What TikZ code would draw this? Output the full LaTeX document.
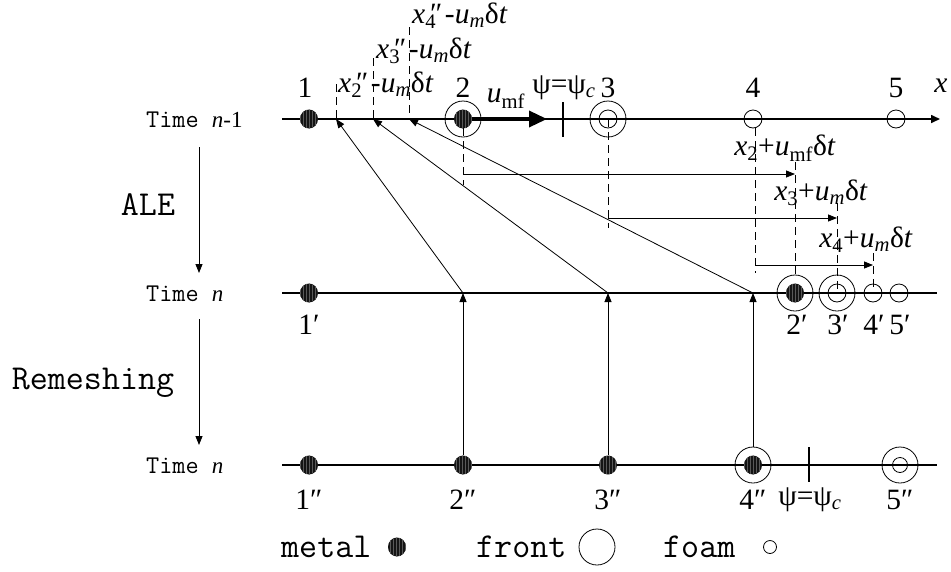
\documentclass[tikz,border=0pt]{standalone}
\usepackage{fontspec}
\setmainfont{Liberation Serif}
\usetikzlibrary{arrows.meta,patterns,shapes.geometric}
\newcommand\lblsize{\rmfamily\fontsize{29.5}{29.5}\selectfont}
\newcommand\timesize{\fontsize{25.5}{25.5}\selectfont\ttfamily}
\newcommand\bigtt{\fontsize{35}{35}\selectfont\ttfamily}
\newcommand\sbi[1]{\textsubscript{\textit{#1}}}
\newcommand\sbu[1]{\textsubscript{#1}}
\newcommand\xpp[1]{\textit{x}\makebox[0pt][l]{\,″}\textsubscript{#1}\hspace{0.3em}}
\newcommand\nser[1]{{\rmfamily\fontsize{23}{23}\selectfont #1}}
\begin{document}
\begin{tikzpicture}[x=1pt,y=-1pt,
  axis/.style={line width=1.6pt},
  tarrow/.style={line width=0.8pt,-{Triangle[length=9pt,width=7pt]}},
  dashline/.style={line width=0.8pt,dash pattern=on 8pt off 5pt},
  metal/.style={ellipse,inner sep=0pt,minimum width=18pt,minimum height=19pt,preaction={fill=black!92},pattern={vertical lines},pattern color=black!65},
  front/.style={circle,draw,line width=0.8pt,minimum size=36pt,inner sep=0pt},
  foam/.style={circle,draw,line width=0.8pt,minimum size=18pt,inner sep=0pt},
  lab/.style={font=\lblsize,inner sep=0pt},
  ttlab/.style={font=\timesize,inner sep=0pt,anchor=west},
  bigttlab/.style={font=\bigtt,inner sep=0pt}]
\useasboundingbox (0,0) rectangle (951,571);

% ---------- coordinates ----------
\coordinate (L1) at (282,119); \coordinate (R1) at (940,119);
\coordinate (L2) at (282,293); \coordinate (R2) at (937,293);
\coordinate (L3) at (282,465); \coordinate (R3) at (937,465);
\coordinate (a2) at (336,119); \coordinate (a3) at (373,119); \coordinate (a4) at (409,119);
\coordinate (a2t) at (336,84); \coordinate (a3t) at (373,58); \coordinate (a4t) at (409,27);
\coordinate (p2) at (463,293); \coordinate (p3) at (608,293); \coordinate (p4) at (753,293);
\coordinate (umf) at (547,119);
\coordinate (psiA) at (563,102); \coordinate (psiB) at (563,137);
\coordinate (psiC) at (809,447); \coordinate (psiD) at (809,482);
\coordinate (d2a) at (463,128); \coordinate (d2b) at (463,185); \coordinate (h2s) at (463,174); \coordinate (h2e) at (795,174);
\coordinate (d3a) at (608,119); \coordinate (d3b) at (608,228); \coordinate (h3s) at (608,218); \coordinate (h3e) at (837,218);
\coordinate (d4a) at (755,128); \coordinate (d4b) at (755,273); \coordinate (h4s) at (755,265); \coordinate (h4e) at (873,265);
\coordinate (e2a) at (795,162); \coordinate (e2b) at (795,275);
\coordinate (e3a) at (837,203); \coordinate (e3b) at (837,293);
\coordinate (e4a) at (873,253); \coordinate (e4b) at (873,293);
\coordinate (s1a) at (199,147); \coordinate (s1b) at (199,273);
\coordinate (s2a) at (199,319); \coordinate (s2b) at (199,445);

% ---------- axes ----------
\draw[axis,-{Triangle[length=9pt,width=8pt]}] (L1) -- (R1);
\draw[axis] (L2) -- (R2);
\draw[axis] (L3) -- (R3);

% ---------- dashed guides ----------
\draw[dashline] (a2t) -- (a2);
\draw[dashline] (a3t) -- (a3);
\draw[dashline] (a4t) -- (a4);
\draw[dashline] (d2a) -- (d2b);
\draw[dashline] (d3a) -- (d3b);
\draw[dashline] (d4a) -- (d4b);
\draw[dashline] (e2a) -- (e2b);
\draw[dashline] (e3a) -- (e3b);
\draw[dashline] (e4a) -- (e4b);

% ---------- shift arrows ----------
\draw[tarrow] (h2s) -- (h2e);
\draw[tarrow] (h3s) -- (h3e);
\draw[tarrow] (h4s) -- (h4e);

% ---------- ticks ----------
\draw[line width=1.4pt] (psiA) -- (psiB);
\draw[line width=1.4pt] (psiC) -- (psiD);

% ---------- top row nodes ----------
\node[metal] (t1) at (309,119) {};
\node[front] (t2f) at (463,119) {};
\node[metal] (t2) at (463,119) {};
\node[front] (t3f) at (608,119) {};
\node[foam] (t3) at (608,119) {};
\node[foam] (t4) at (753,119) {};
\node[foam] (t5) at (896,119) {};
\draw[line width=3.5pt,-{Triangle[length=18pt,width=16pt]}] (t2.east) -- (umf);

% ---------- middle row nodes ----------
\node[metal] (m1) at (309,293) {};
\node[front] (m2f) at (795,293) {};
\node[metal] (m2) at (795,293) {};
\node[front] (m3f) at (837,293) {};
\node[foam] (m3) at (837,293) {};
\node[foam] (m4) at (873,293) {};
\node[foam] (m5) at (899,293) {};

% ---------- bottom row nodes ----------
\node[metal] (b1) at (309,465) {};
\node[metal] (b2) at (463,465) {};
\node[metal] (b3) at (608,465) {};
\node[front] (b4f) at (753,465) {};
\node[metal] (b4) at (753,465) {};
\node[front] (b5f) at (900,465) {};
\node[foam,minimum size=15pt] (b5) at (900,465) {};

% ---------- mapping arrows ----------
\draw[tarrow] (p2) -- (a2);
\draw[tarrow] (p3) -- (a3);
\draw[tarrow] (p4) -- (a4);
\draw[tarrow] (b2.north) -- (p2);
\draw[tarrow] (b3.north) -- (p3);
\draw[tarrow] (b4f.north) -- (p4);

% ---------- left labels and step arrows ----------
\node[ttlab] (tn1) at (146,120) {Time \nser{\textit{n}-1}};
\node[ttlab] (tn2) at (146,294) {Time \nser{\textit{n}}};
\node[ttlab] (tn3) at (146,466) {Time \nser{\textit{n}}};
\draw[tarrow] (s1a) -- (s1b);
\draw[tarrow] (s2a) -- (s2b);
\node[bigttlab] (ale) at (148,205) {ALE};
\node[bigttlab] (rem) at (93,383) {Remeshing};

% ---------- top labels ----------
\node[lab] (l1) at (305,88) {1};
\node[lab] (l2) at (463,88) {2};
\node[lab] (l3) at (608,88) {3};
\node[lab] (l4) at (753,88) {4};
\node[lab] (l5) at (896,88) {5};
\node[lab] (lx) at (941,86) {\textit{x}};
\node[lab] (lumf) at (506,99) {\textit{u}\sbu{mf}};
\node[lab] (lpsi1) at (564,88) {ψ=ψ\sbi{c}};
\node[lab,anchor=west] (lx2) at (338,85) {\xpp{2}-\textit{u}\sbi{m}δ\textit{t}};
\node[lab,anchor=west] (lx3) at (376,51) {\xpp{3}-\textit{u}\sbi{m}δ\textit{t}};
\node[lab,anchor=west] (lx4) at (412,16) {\xpp{4}-\textit{u}\sbi{m}δ\textit{t}};

% ---------- right shift labels ----------
\node[lab] (r2) at (785,148) {\textit{x}\sbu{2}+\textit{u}\sbu{mf}δ\textit{t}};
\node[lab] (r3) at (821,193) {\textit{x}\sbu{3}+\textit{u}\sbi{m}δ\textit{t}};
\node[lab] (r4) at (866,240) {\textit{x}\sbu{4}+\textit{u}\sbi{m}δ\textit{t}};

% ---------- middle labels ----------
\node[lab] (n1) at (309,325) {1′};
\node[lab] (n2) at (797,325) {2′};
\node[lab] (n3) at (838,325) {3′};
\node[lab] (n4) at (874,325) {4′};
\node[lab] (n5) at (900,325) {5′};

% ---------- bottom labels ----------
\node[lab] (o1) at (309,500) {1″};
\node[lab] (o2) at (463,500) {2″};
\node[lab] (o3) at (608,500) {3″};
\node[lab] (o4) at (753,500) {4″};
\node[lab] (lpsi2) at (810,500) {ψ=ψ\sbi{c}};
\node[lab] (o5) at (900,500) {5″};

% ---------- legend ----------
\node[bigttlab,anchor=west] (gm) at (281,547) {metal};
\node[metal] (gmd) at (397,547) {};
\node[bigttlab,anchor=west] (gf) at (476,547) {front};
\node[front] (gfc) at (597,547) {};
\node[bigttlab,anchor=west] (go) at (663,547) {foam};
\node[foam,minimum size=13pt] (goc) at (770,547) {};
\end{tikzpicture}
\end{document}
